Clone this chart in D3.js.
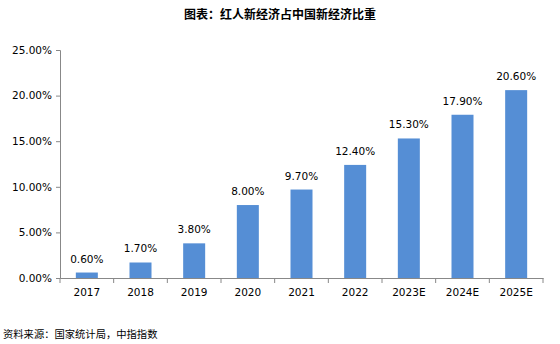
<!DOCTYPE html>
<html><head><meta charset="utf-8">
<script src="https://cdn.jsdelivr.net/npm/d3@7"></script>
<style>body{margin:0;background:#fff}</style>
</head><body>
<svg id="c" width="560" height="344"></svg>
<script>
const categories = ["2017","2018","2019","2020","2021","2022","2023E","2024E","2025E"];
const values = [0.6,1.7,3.8,8.0,9.7,12.4,15.3,17.9,20.6];
const yTicks = [0,5,10,15,20,25];
const title = "图表：红人新经济占中国新经济比重";
const source = "资料来源：国家统计局，中指指数";

const svg = d3.select("#c");
const num = "'DejaVu Sans', sans-serif";
const cjk = "'Noto Sans CJK SC', sans-serif";
const x = d3.scaleBand().domain(categories).range([60,543]).paddingInner(0.59).paddingOuter(0.295);
const y = d3.scaleLinear().domain([0,25]).range([278,50]);

svg.append("text").attr("x",280).attr("y",19).attr("text-anchor","middle")
  .attr("font-family",cjk).attr("font-weight","bold").attr("font-size",12).attr("fill","#000").text(title);

const ya = svg.append("g").attr("transform","translate(60,0)")
  .call(d3.axisLeft(y).tickValues(yTicks).tickFormat(d=>d.toFixed(2)+"%").tickSize(4).tickPadding(4));
ya.select(".domain").attr("stroke","#888");
ya.selectAll(".tick line").attr("stroke","#888");
ya.selectAll("text").attr("font-family",num).attr("font-size",10.5).attr("fill","#000");

const xa = svg.append("g").attr("transform","translate(0,278)")
  .call(d3.axisBottom(x).tickSize(0).tickPadding(11));
xa.select(".domain").attr("stroke","#888");
xa.selectAll("text").attr("font-family",num).attr("font-size",10.5).attr("fill","#000");
// boundary ticks
const step = x.step();
const bounds = d3.range(categories.length+1).map(i=>60+i*step);
svg.append("g").selectAll("line").data(bounds).join("line")
  .attr("x1",d=>d).attr("x2",d=>d).attr("y1",278).attr("y2",283).attr("stroke","#888");

svg.append("g").selectAll("rect").data(values).join("rect")
  .attr("x",(d,i)=>x(categories[i])).attr("width",x.bandwidth())
  .attr("y",d=>y(d)).attr("height",d=>y(0)-y(d)).attr("fill","#558ED5");

svg.append("g").selectAll("text").data(values).join("text")
  .attr("x",(d,i)=>x(categories[i])+x.bandwidth()/2).attr("y",d=>y(d)-10)
  .attr("text-anchor","middle").attr("font-family",num).attr("font-size",10.5).attr("fill","#000")
  .text(d=>d.toFixed(2)+"%");

svg.append("text").attr("x",3).attr("y",338).attr("font-family",cjk).attr("font-size",10.3)
  .attr("fill","#000").text(source);
</script>
</body></html>
